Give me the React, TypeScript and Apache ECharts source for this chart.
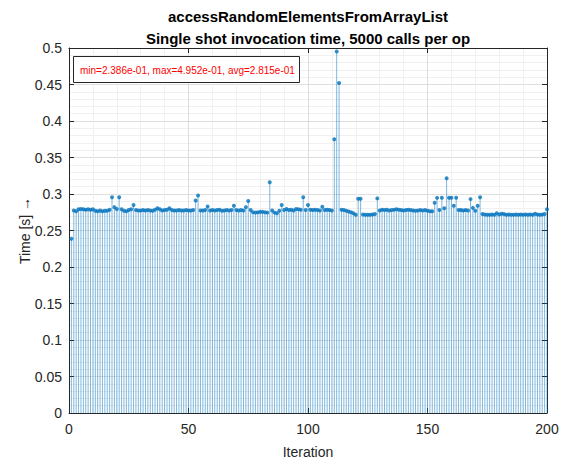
import React, { useEffect, useRef } from "react";
import * as echarts from "echarts";

const titleLine1 = "accessRandomElementsFromArrayList";
const titleLine2 = "Single shot invocation time, 5000 calls per op";
const statsText = "min=2.386e-01, max=4.952e-01, avg=2.815e-01";
const xName = "Iteration";
const yName = "Time [s] \u2192";

const iterations = Array.from({ length: 200 }, (_, i) => i + 1);

const times = [
  0.2386, 0.2775, 0.2765, 0.279, 0.2795, 0.279, 0.2785, 0.279, 0.2785, 0.279,
  0.277, 0.2765, 0.2775, 0.2765, 0.277, 0.277, 0.2785, 0.2955, 0.282, 0.2795,
  0.2955, 0.279, 0.277, 0.2765, 0.278, 0.279, 0.285, 0.278, 0.2775, 0.2775,
  0.278, 0.2775, 0.278, 0.2775, 0.277, 0.2785, 0.2805, 0.279, 0.2775, 0.278,
  0.2785, 0.2805, 0.278, 0.2775, 0.2775, 0.278, 0.2775, 0.2775, 0.278, 0.2775,
  0.2775, 0.278, 0.291, 0.298, 0.2775, 0.2775, 0.278, 0.283, 0.2775, 0.278,
  0.2775, 0.278, 0.2785, 0.277, 0.2775, 0.278, 0.2775, 0.278, 0.284, 0.278,
  0.2775, 0.278, 0.2775, 0.282, 0.2905, 0.278, 0.275, 0.2745, 0.275, 0.2755,
  0.2755, 0.275, 0.2745, 0.316, 0.2775, 0.2745, 0.2735, 0.277, 0.285, 0.278,
  0.2795, 0.278, 0.2785, 0.2775, 0.2795, 0.279, 0.2785, 0.2955, 0.278, 0.285,
  0.2785, 0.278, 0.2785, 0.278, 0.2775, 0.2825, 0.278, 0.2785, 0.278, 0.2775,
  0.375, 0.4952, 0.452, 0.2785, 0.278, 0.277, 0.276, 0.275, 0.2735, 0.2715,
  0.2935, 0.2935, 0.272, 0.2715, 0.2715, 0.2715, 0.272, 0.2725, 0.294, 0.2775,
  0.2785, 0.278, 0.2785, 0.2775, 0.278, 0.2785, 0.279, 0.2785, 0.278, 0.2775,
  0.278, 0.2785, 0.278, 0.2775, 0.277, 0.2775, 0.278, 0.2775, 0.278, 0.277,
  0.2765, 0.2765, 0.288, 0.2947, 0.278, 0.295, 0.2805, 0.3215, 0.295, 0.295,
  0.284, 0.295, 0.278, 0.278, 0.2775, 0.278, 0.2775, 0.293, 0.281, 0.277,
  0.284, 0.2955, 0.2725, 0.272, 0.2715, 0.2715, 0.272, 0.2715, 0.2735, 0.272,
  0.273, 0.2725, 0.2715, 0.272, 0.2715, 0.2715, 0.272, 0.2715, 0.272, 0.2715,
  0.272, 0.2715, 0.272, 0.2715, 0.273, 0.272, 0.2715, 0.272, 0.2725, 0.279,
];

const xMin = 0;
const xMax = 200;
const xInterval = 50;
const yMin = 0;
const yMax = 0.5;
const yInterval = 0.05;

const FONT = "'Liberation Sans', Arial, Helvetica, sans-serif";
const AXIS_COLOR = "#262626";
const STEM_BLUE = "#0072BD";

export default function App() {
  const ref = useRef<HTMLDivElement>(null);

  useEffect(() => {
    if (!ref.current) return;
    const chart = echarts.init(ref.current, null, { renderer: "svg" });
    const pts = iterations.map((x, i) => [x, times[i]]);

    const mainAxisCommon = {
      axisLine: { show: true, onZero: false, lineStyle: { color: AXIS_COLOR, width: 1 } },
      axisTick: { show: true, inside: true, length: 5, lineStyle: { color: AXIS_COLOR } },
      axisLabel: { color: AXIS_COLOR, fontSize: 14, fontFamily: FONT },
      splitLine: { show: true, lineStyle: { color: "#dedede", width: 1 } },
      minorTick: { show: false, splitNumber: 5 },
      minorSplitLine: { show: true, lineStyle: { color: "#f0f0f0", width: 1 } },
    };
    const boxAxisCommon = {
      axisLine: { show: true, onZero: false, lineStyle: { color: AXIS_COLOR, width: 1 } },
      axisTick: { show: true, inside: true, length: 5, lineStyle: { color: AXIS_COLOR } },
      axisLabel: { show: false },
      splitLine: { show: false },
    };

    chart.setOption({
      animation: false,
      backgroundColor: "#ffffff",
      grid: { left: 69, right: 18, top: 48, bottom: 51, show: false },
      xAxis: [
        {
          type: "value",
          min: xMin,
          max: xMax,
          interval: xInterval,
          position: "bottom",
          name: xName,
          nameLocation: "middle",
          nameGap: 32,
          nameMoveOverlap: false,
          nameTextStyle: { color: AXIS_COLOR, fontSize: 14, fontFamily: FONT },
          ...mainAxisCommon,
          axisLabel: { ...mainAxisCommon.axisLabel, margin: 9 },
        },
        {
          type: "value",
          min: xMin,
          max: xMax,
          interval: xInterval,
          position: "top",
          ...boxAxisCommon,
        },
      ],
      yAxis: [
        {
          type: "value",
          min: yMin,
          max: yMax,
          interval: yInterval,
          position: "left",
          name: yName,
          nameLocation: "middle",
          nameRotate: 90,
          nameGap: 37,
          nameMoveOverlap: false,
          nameTextStyle: { color: AXIS_COLOR, fontSize: 14, fontFamily: FONT },
          ...mainAxisCommon,
          axisLabel: { ...mainAxisCommon.axisLabel, margin: 7 },
        },
        {
          type: "value",
          min: yMin,
          max: yMax,
          interval: yInterval,
          position: "right",
          ...boxAxisCommon,
        },
      ],
      series: [
        {
          type: "bar",
          data: pts,
          xAxisIndex: 0,
          yAxisIndex: 0,
          barWidth: 1,
          silent: true,
          itemStyle: { color: STEM_BLUE, opacity: 0.5 },
        },
        {
          type: "scatter",
          data: pts,
          xAxisIndex: 0,
          yAxisIndex: 0,
          symbol: "circle",
          symbolSize: 4,
          silent: true,
          itemStyle: { color: STEM_BLUE },
        },
      ],
      graphic: [
        {
          type: "text",
          x: 308,
          y: 16,
          style: {
            text: titleLine1,
            fill: "#000",
            font: `bold 15px ${FONT}`,
            textAlign: "center",
            textVerticalAlign: "middle",
          },
        },
        {
          type: "text",
          x: 308,
          y: 38,
          style: {
            text: titleLine2,
            fill: "#000",
            font: `bold 15px ${FONT}`,
            textAlign: "center",
            textVerticalAlign: "middle",
          },
        },
        {
          type: "rect",
          shape: { x: 73.5, y: 56.5, width: 226, height: 26 },
          style: { fill: "#ffffff", stroke: AXIS_COLOR, lineWidth: 1 },
          z: 100,
        },
        {
          type: "text",
          x: 80,
          y: 70,
          z: 101,
          style: {
            text: statsText,
            fill: "#ff0000",
            font: `10px ${FONT}`,
            textAlign: "left",
            textVerticalAlign: "middle",
          },
        },
      ],
    });

    return () => chart.dispose();
  }, []);

  return (
    <div
      ref={ref}
      style={{ position: "fixed", left: 0, top: 0, width: 565, height: 464, background: "#fff" }}
    />
  );
}
